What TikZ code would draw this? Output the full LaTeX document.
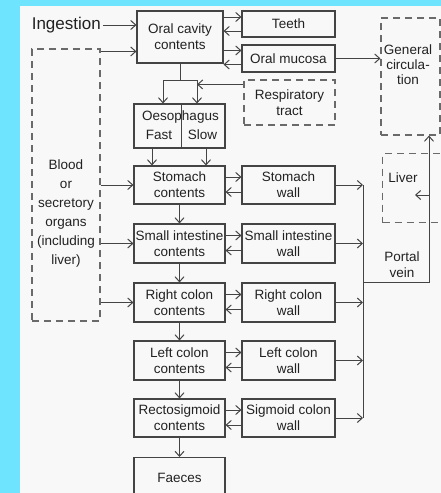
\documentclass[tikz,border=0pt]{standalone}
\usepackage{fontspec}
\setmainfont{Liberation Sans}
\usetikzlibrary{arrows.meta}
\definecolor{frame}{HTML}{6FE4FF}
\definecolor{paper}{HTML}{F8F8F8}
\definecolor{ink}{HTML}{222222}
\definecolor{edge}{HTML}{444444}
\definecolor{dashc}{HTML}{6A6A6A}
\newcommand\boxfont{\fontsize{13.5}{16}\selectfont}
% two opposite arrows between a box #1 and the box #2 on its right
\newcommand\twoway[4]{%
  \path ([yshift=#3]#2.west) coordinate (tw1) ([yshift=#4]#2.west) coordinate (tw2);
  \draw[arr] (tw1 -| #1.east) -- (tw1);
  \draw[arr] (tw2) -- (tw2 -| #1.east);}
\begin{document}
\begin{tikzpicture}[x=1pt,y=-1pt,
  cbox/.style={draw=edge, line width=1.1pt, rectangle, inner sep=0pt, align=center,
    text=ink, font=\boxfont, minimum width=91pt, minimum height=39pt},
  wbox/.style={cbox, minimum width=93pt},
  dbox/.style={draw=dashc, line width=1.1pt, dash pattern=on 7pt off 5pt, rectangle,
    inner sep=0pt, align=center, text=ink, font=\boxfont},
  lbl/.style={inner sep=0pt, align=center, text=ink, font=\boxfont},
  lnk/.style={draw=edge, line width=1pt},
  arr/.style={lnk, -{Straight Barb[length=5pt,width=9pt]}}]

\useasboundingbox (0,0) rectangle (441,493);
\fill[frame] (0,0) rectangle (441,493);
\fill[paper] (20,6) rectangle (441,493);

% inputs
\node[lbl, font=\fontsize{17}{20}\selectfont, anchor=east] (ing) at (101,25) {Ingestion};
\node[dbox, minimum width=68pt, minimum height=272pt] (blood) at (66,185) {};
\node[lbl, font=\fontsize{13.5}{19}\selectfont] (bloodtxt) at (66,214)
  {Blood\\or\\secretory\\organs\\(including\\liver)};

% oral cavity and its neighbours
\node[cbox, minimum width=86pt, minimum height=52pt] (oral) at (180,37) {Oral cavity\\contents};
\node[wbox, minimum height=26pt] (teeth) at (288.5,24) {Teeth};
\node[wbox, minimum height=27pt] (mucosa) at (288.5,58.5) {Oral mucosa};
\node[dbox, minimum width=91pt, minimum height=45pt] (resp) at (289.5,102.5) {Respiratory\\tract};

% systemic side
\node[dbox, minimum width=59pt, minimum height=117pt] (genc) at (410.5,76.5) {};
\node[lbl, font=\fontsize{13.5}{15}\selectfont] (gentxt) at (408,65) {General\\circula-\\tion};
\node[dbox, minimum width=90pt, minimum height=69pt, anchor=north west] (liver) at (382,153) {};
\node[lbl] (livertxt) at (403,178) {Liver};
\node[lbl] (pvtxt) at (402,265) {Portal\\vein};

% oesophagus
\node[cbox, minimum height=44pt] (oes) at (179.5,126) {};
\node[lbl] (oestxt) at (180.5,117) {Oesophagus};
\node[lbl] (fast) at (159,135) {Fast};
\node[lbl] (slow) at (202.5,135) {Slow};
\draw[lnk] ([xshift=1.5pt]oes.north) -- ([xshift=1.5pt]oes.south);

% contents column
\node[cbox, minimum height=38pt] (stomach) at (179.5,185) {Stomach\\contents};
\node[cbox] (small) at (179.5,243.5) {Small intestine\\contents};
\node[cbox] (rcolon) at (179.5,302.5) {Right colon\\contents};
\node[cbox] (lcolon) at (179.5,360.5) {Left colon\\contents};
\node[cbox, minimum height=38pt] (recto) at (179.5,418) {Rectosigmoid\\contents};
\node[cbox, minimum height=40pt, anchor=north] (faeces) at (179.5,457) {Faeces};

% wall column
\node[wbox, minimum height=38pt] (stomachw) at (288.5,185) {Stomach\\wall};
\node[wbox] (smallw) at (288.5,243.5) {Small intestine\\wall};
\node[wbox] (rcolonw) at (288.5,302.5) {Right colon\\wall};
\node[wbox] (lcolonw) at (288.5,360.5) {Left colon\\wall};
\node[wbox, minimum height=38pt] (rectow) at (288.5,418) {Sigmoid colon\\wall};

% inflow to the oral cavity
\draw[arr] ([xshift=2pt]ing.east) -- (ing.east -| oral.west);
\path ([yshift=-3pt]blood.north east) coordinate (bo);
\draw[arr] (bo) -- (bo -| oral.west);
\foreach \n in {stomach,small,rcolon} \draw[arr] (\n.west -| blood.east) -- (\n.west);

\twoway{oral}{teeth}{7pt}{-7pt}
\twoway{oral}{mucosa}{8pt}{-6pt}
\draw[arr] (mucosa.east) -- (mucosa.east -| genc.west);

% oral cavity to oesophagus, with the respiratory tract input
\coordinate (split) at (180,80);
\coordinate (fastin) at (163,80);
\coordinate (slowin) at (197,80);
\draw[lnk] (oral.south) -- (split);
\draw[lnk] (fastin) -- (slowin);
\draw[arr] (fastin) -- (fastin |- oes.north);
\draw[arr] (slowin) -- (slowin |- oes.north);
\path ([yshift=-5pt]resp.north west) coordinate (rs);
\draw[arr] (rs) -- (rs -| slowin);

% oesophagus to stomach
\path (oes.south) ++(-27.5,0) coordinate (ofast) (oes.south) ++(26.5,0) coordinate (oslow);
\draw[arr] (ofast) -- (ofast |- stomach.north);
\draw[arr] (oslow) -- (oslow |- stomach.north);

% transit down the tract
\draw[arr] (stomach) -- (small);
\draw[arr] (small) -- (rcolon);
\draw[arr] (rcolon) -- (lcolon);
\draw[arr] (lcolon) -- (recto);
\draw[arr] (recto) -- (faeces);

% exchange with the walls
\twoway{stomach}{stomachw}{8pt}{-7pt}
\twoway{small}{smallw}{8pt}{-7pt}
\twoway{rcolon}{rcolonw}{8pt}{-7pt}
\twoway{lcolon}{lcolonw}{8pt}{-7pt}
\twoway{recto}{rectow}{8pt}{-7pt}

% portal vein
\coordinate (vtop) at (363,185);
\coordinate (vbot) at (363,418);
\draw[lnk] (vtop) -- (vbot);
\foreach \w in {stomachw,smallw,rcolonw,lcolonw,rectow} \draw[arr] (\w.east) -- (\w.east -| vtop);
\coordinate (pvj) at (363,282);
\coordinate (pvc) at (429,282);
\draw[arr] (pvj) -- (pvc) -- (pvc |- genc.south);
\coordinate (lv) at (429,195);
\draw[arr] (lv) -- ++(-14,0);
\end{tikzpicture}
\end{document}
